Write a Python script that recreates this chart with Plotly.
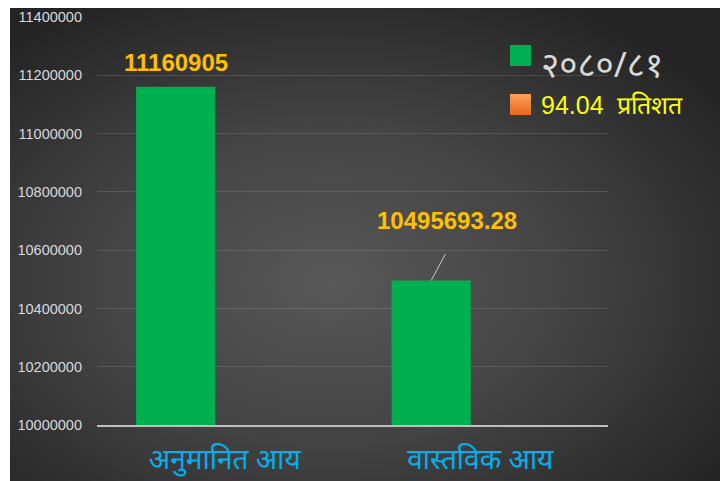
"""Budget vs actual income bar chart (FY 2080/81)."""

import base64

import plotly.graph_objects as go

CATEGORIES = ["अनुमानित आय", "वास्तविक आय"]
VALUES = [11160905, 10495693.28]
VALUE_LABELS = ["11160905", "10495693.28"]
SERIES_NAME = "२०८०/८१"
PERCENT_NAME = "94.04  प्रतिशत"
Y_TICKS = [10000000, 10200000, 10400000, 10600000, 10800000, 11000000, 11200000, 11400000]

GREEN = "#00b050"
GOLD = "#ffc000"
BLUE = "#00b0f0"
GREY_TEXT = "#d9d9d9"

BAR_WIDTH = 0.31
BAR_OFFSET = -0.347

W, H = 720, 481
L, R, T, B = 97, 112, 17, 56
PW, PH = W - L - R, H - T - B


def _px_x(px):
    return (px - L) / PW


def _px_y(py):
    return (H - B - py) / PH


BG_SVG = """<svg xmlns='http://www.w3.org/2000/svg' width='710' height='473' preserveAspectRatio='none'>
<defs>
<radialGradient id='g' cx='45%' cy='58%' r='68%'>
<stop offset='0' stop-color='#585858'/>
<stop offset='0.5' stop-color='#434343'/>
<stop offset='1' stop-color='#242424'/>
</radialGradient>
</defs>
<rect width='710' height='473' fill='url(#g)'/>
</svg>"""
BG_URI = "data:image/svg+xml;base64," + base64.b64encode(BG_SVG.encode("utf-8")).decode("ascii")

ORANGE_SVG = """<svg xmlns='http://www.w3.org/2000/svg' width='20' height='21'>
<defs><linearGradient id='o' x1='0' y1='0' x2='0' y2='1'>
<stop offset='0' stop-color='#fba05e'/><stop offset='1' stop-color='#e8691a'/>
</linearGradient></defs><rect width='20' height='21' fill='url(#o)'/></svg>"""
ORANGE_URI = "data:image/svg+xml;base64," + base64.b64encode(ORANGE_SVG.encode("utf-8")).decode("ascii")

fig = go.Figure()
fig.add_trace(
    go.Bar(
        x=CATEGORIES,
        y=VALUES,
        name=SERIES_NAME,
        width=BAR_WIDTH,
        offset=BAR_OFFSET,
        marker={"color": GREEN, "line": {"width": 0}},
        showlegend=False,
    )
)

bar_centers = [i + BAR_OFFSET + BAR_WIDTH / 2 for i in range(len(CATEGORIES))]
label_font = {"family": "Liberation Sans, Arial", "size": 24, "color": GOLD}
fig.add_annotation(
    x=bar_centers[0], y=VALUES[0], text=f"<b>{VALUE_LABELS[0]}</b>",
    showarrow=False, yanchor="bottom", yshift=9, font=label_font,
)
fig.add_annotation(
    x=bar_centers[1], y=VALUES[1], text=f"<b>{VALUE_LABELS[1]}</b>",
    showarrow=False, yanchor="middle", xshift=16, yshift=60, font=label_font,
)
# leader line from the second label to its bar
fig.add_annotation(
    x=bar_centers[1], y=VALUES[1], text="",
    showarrow=True, arrowhead=0, arrowwidth=1, arrowcolor="#c8c8c8",
    ax=15, ay=-28, standoff=0,
)

# legend drawn by hand so the markers and fonts match the original
fig.add_shape(
    type="rect", xref="paper", yref="paper",
    x0=_px_x(510), x1=_px_x(531), y0=_px_y(66), y1=_px_y(45),
    fillcolor=GREEN, line={"width": 0},
)
fig.add_annotation(
    xref="paper", yref="paper", x=_px_x(539), y=_px_y(63), xanchor="left", yanchor="middle",
    text=SERIES_NAME, showarrow=False, font={"family": "Noto Sans, sans-serif", "size": 35, "color": GREY_TEXT},
)
fig.add_annotation(
    xref="paper", yref="paper", x=_px_x(539), y=_px_y(105), xanchor="left", yanchor="middle",
    text=PERCENT_NAME, showarrow=False, font={"family": "Liberation Sans, Arial", "size": 25, "color": "#ffff00"},
)

fig.update_layout(
    width=W,
    height=H,
    margin={"l": L, "r": R, "t": T, "b": B, "autoexpand": False},
    paper_bgcolor="white",
    plot_bgcolor="rgba(0,0,0,0)",
    showlegend=False,
    images=[
        {
            "source": BG_URI, "xref": "paper", "yref": "paper",
            "x": _px_x(10), "y": _px_y(8), "sizex": 710 / PW, "sizey": 473 / PH,
            "xanchor": "left", "yanchor": "top", "sizing": "stretch", "layer": "below",
        },
        {
            "source": ORANGE_URI, "xref": "paper", "yref": "paper",
            "x": _px_x(510), "y": _px_y(94), "sizex": 21 / PW, "sizey": 21 / PH,
            "xanchor": "left", "yanchor": "top", "sizing": "stretch", "layer": "above",
        },
    ],
    xaxis={
        "type": "category",
        "automargin": False,
        "showgrid": False,
        "showline": True,
        "linecolor": "#bfbfbf",
        "linewidth": 2,
        "tickfont": {"family": "Noto Sans, sans-serif", "size": 28, "color": BLUE},
        "ticklabelstandoff": 8,
        "range": [-0.5, 1.5],
    },
    yaxis={
        "automargin": False,
        "range": [Y_TICKS[0], Y_TICKS[-1]],
        "tickmode": "array",
        "tickvals": Y_TICKS,
        "ticktext": [str(v) for v in Y_TICKS],
        "tickfont": {"family": "Liberation Sans, Arial", "size": 14.5, "color": GREY_TEXT},
        "showgrid": True,
        "gridcolor": "rgba(255,255,255,0.12)",
        "gridwidth": 1,
        "zeroline": False,
        "ticklabelstandoff": 14,
    },
)

# drop the default 8px body margin so the figure fills the window exactly
fig.write_html("out.html", config={"displayModeBar": False}, post_script="document.body.style.margin = '0';")
